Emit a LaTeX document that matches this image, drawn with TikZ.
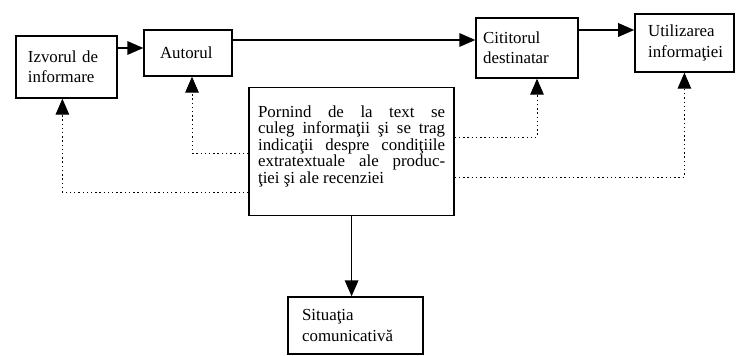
\documentclass[tikz,border=0pt]{standalone}
\usepackage{fontspec}
\setmainfont{Liberation Serif}
\usetikzlibrary{arrows.meta}

\begin{document}
\begin{tikzpicture}[every node/.style={font=\fontsize{12}{14.5}\selectfont}, box/.style={draw, line width=1pt, align=left}, arr/.style={-{Triangle[length=0.4cm, width=0.34cm]}, line width=1pt}, dotarr/.style={arr, dotted, line width=0.7pt}]
	\useasboundingbox (0, 0) rectangle (18.425, -8.9);

	\node[box, text width=1.925cm, inner xsep=0.3cm, minimum height=1.55cm] (izvor) at (1.66, -1.675) {Izvorul de\\informare};
	\node[box, text width=1.4cm, inner xsep=0.4cm, minimum height=1.15cm] (autor) at (4.7, -1.325) {Autorul};
	\node[box, text width=2.19cm, inner xsep=0.18cm, minimum height=1.5cm] (citit) at (13.175, -1.2) {Cititorul\\destinatar};
	\node[box, text width=1.815cm, inner xsep=0.33cm, minimum height=1.45cm] (util) at (17.11, -1.075) {Utilizarea\\informaţiei};
	\node[box, anchor=north, align=justify, text width=4.675cm, inner xsep=0.225cm, inner ysep=0.45cm, text depth=2.0cm, font=\fontsize{12}{11.7}\selectfont] (cen) at (8.79, -2.175) {Pornind de la text se\linebreak culeg informaţii şi se trag\linebreak indicaţii despre condiţiile\linebreak extratextuale ale produc-\linebreak ţiei şi ale recenziei};
	\node[box, text width=2.675cm, inner xsep=0.35cm, minimum height=1.425cm] (sit) at (8.89, -8.1375) {Situaţia\\comunicativă};

	\draw[arr] (izvor.east |- 0, -1.2) -- (autor.west |- 0, -1.2);
	\draw[arr] (autor.east |- 0, -1.0) -- (citit.west |- 0, -1.0);
	\draw[arr] (citit.east |- 0, -0.75) -- (util.west |- 0, -0.75);
	\draw[arr] (cen.south) -- (cen.south |- sit.north);

	\draw[dotarr] (cen.west |- 0, -3.825) -| ([xshift=0.1cm]autor.south);
	\draw[dotarr] (cen.west |- 0, -4.8) -| ([xshift=-0.1cm]izvor.south);
	\draw[dotarr] (cen.east |- 0, -3.425) -| ([xshift=0.25cm]citit.south);
	\draw[dotarr] (cen.east |- 0, -4.425) -| (util.south);
\end{tikzpicture}
\end{document}
